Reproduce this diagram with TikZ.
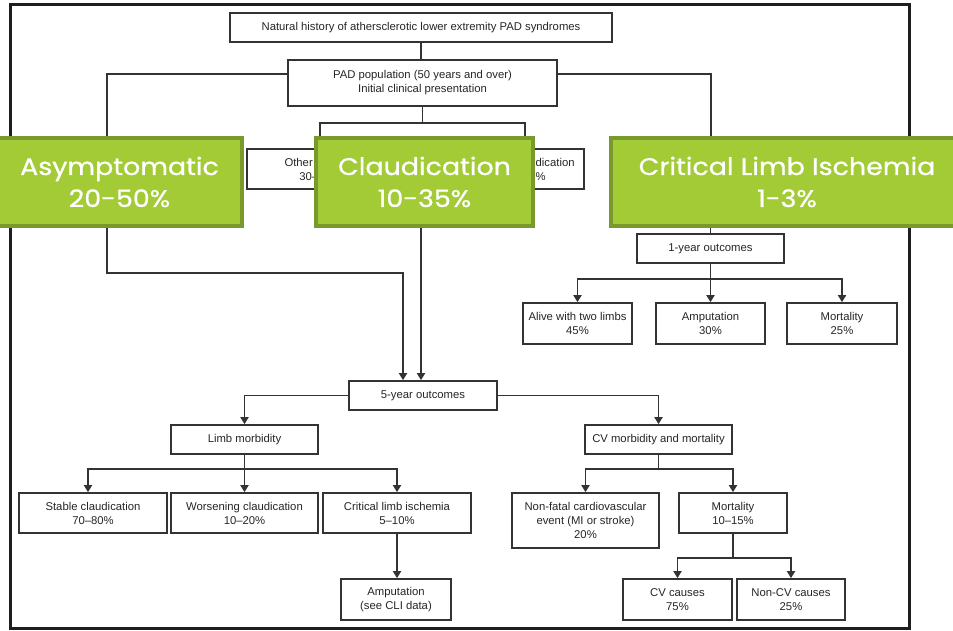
\documentclass[tikz,border=0pt]{standalone}
\usepackage{fontspec}
\setmainfont{Liberation Sans}
\newfontfamily\greenfont{Poppins}[FakeStretch=1.12,FakeBold=0.8]
\usetikzlibrary{arrows.meta}
\definecolor{ink}{HTML}{333333}
\definecolor{frameink}{HTML}{1E1E1E}
\definecolor{leaf}{HTML}{A2CB36}
\definecolor{leafedge}{HTML}{789A2C}
\begin{document}
\begin{tikzpicture}[x=1pt,y=-1pt,
  bx/.style={draw=ink,line width=1.7pt,fill=white,inner sep=0pt,align=center,
    text=black!85,font=\fontsize{11.3}{14}\selectfont},
  sz/.style 2 args={minimum width=#1pt,minimum height=#2pt},
  conn/.style={draw=ink,line width=1.8pt},
  arr/.style={conn,-{Triangle[width=8pt,length=7pt]}},
  tag/.style={draw=leafedge,line width=3.5pt,fill=leaf,text=white,inner sep=0pt,
    align=center,font=\greenfont\fontsize{24}{32}\selectfont}
]
\useasboundingbox (0,0) rectangle (953,630);
\begin{scope}
\clip (0,0) rectangle (953,630);

% outer frame
\draw[frameink,line width=3pt] (10,4) rectangle (909,628);

% header and population
\node[bx,sz={382}{29}] (nat) at (421,27.5) {Natural history of athersclerotic lower extremity PAD syndromes};
\node[bx,sz={269}{46}] (pad) at (422.5,83) {PAD population (50 years and over)\\Initial clinical presentation};

% initial presentation boxes
\node[bx,sz={146}{40}] (oth) at (320,169) {Other leg pain\\30--40\%};
\node[bx,sz={118}{40}] (cla) at (525,169) {Classic claudication\\10--35\%};
\coordinate (tA) at (107,149);
\coordinate (tL) at (711,149);

% 1-year outcomes
\node[bx,sz={147}{29}] (one) at (710.5,248.5) {1-year outcomes};
\node[bx,sz={109}{41}] (alive) at (577.5,323.5) {Alive with two limbs\\45\%};
\node[bx,sz={109}{41}] (amp1) at (710.5,323.5) {Amputation\\30\%};
\node[bx,sz={110}{41}] (mort1) at (842,323.5) {Mortality\\25\%};

% 5-year outcomes
\node[bx,sz={148}{29}] (five) at (423,395.5) {5-year outcomes};
\node[bx,sz={147}{29}] (limb) at (244.5,439.5) {Limb morbidity};
\node[bx,sz={147}{29}] (cv) at (658.5,439.5) {CV morbidity and mortality};
\node[bx,sz={148}{40}] (stab) at (93,513) {Stable claudication\\70--80\%};
\node[bx,sz={147}{40}] (wors) at (244.5,513) {Worsening claudication\\10--20\%};
\node[bx,sz={148}{40}] (cli) at (397,513) {Critical limb ischemia\\5--10\%};
\node[bx,sz={110}{41}] (amp5) at (396,599.5) {Amputation\\(see CLI data)};
\node[bx,sz={147}{55}] (nonf) at (585.5,520.5) {Non-fatal cardiovascular\\event (MI or stroke)\\20\%};
\node[bx,sz={108}{40}] (mort5) at (733,513) {Mortality\\10--15\%};
\node[bx,sz={109}{41}] (cvc) at (677.5,599.5) {CV causes\\75\%};
\node[bx,sz={108}{41}] (ncv) at (791,599.5) {Non-CV causes\\25\%};

% connectors at the top
\draw[conn] (nat.south) -- (nat.south |- pad.north);
\draw[arr] ([yshift=9pt]pad.west) -| (tA);
\draw[arr] ([yshift=9pt]pad.east) -| (tL);
\draw[arr] (pad.south) -- ++(0,16) -| (oth.north);
\draw[arr] (pad.south) -- ++(0,16) -| (cla.north);

% presentation categories
\node[tag,sz={245}{88}] (gA) at (119.5,182) {Asymptomatic\\20-50\%};
\node[tag,sz={217}{88}] (gC) at (424.5,182) {Claudication\\10-35\%};
\node[tag,sz={352}{88}] (gL) at (787,182) {Critical Limb Ischemia\\1-3\%};

% into the outcome trees
\draw[arr] ([xshift=-12.5pt]gA.south) -- ++(0,45) -| ([xshift=-20pt]five.north);
\draw[arr] ([xshift=-3.5pt]gC.south) -- ([xshift=-2pt]five.north);
\draw[conn] (one.north |- gL.south) -- (one.north);

\draw[arr] (one.south) -- ++(0,15) -| (alive.north);
\draw[arr] (one.south) -- (amp1.north);
\draw[arr] (one.south) -- ++(0,15) -| (mort1.north);

\draw[arr] (five.west) -| (limb.north);
\draw[arr] (five.east) -| (cv.north);

\draw[arr] (limb.south) -- ++(0,14) -| ([xshift=-5pt]stab.north);
\draw[arr] (limb.south) -- (wors.north);
\draw[arr] (limb.south) -- ++(0,14) -| (cli.north);
\draw[arr] (cli.south) -- (cli.south |- amp5.north);

\draw[arr] (cv.south) -- ++(0,14) -| (nonf.north);
\draw[arr] (cv.south) -- ++(0,14) -| (mort5.north);
\draw[arr] (mort5.south) -- ++(0,24) -| (cvc.north);
\draw[arr] (mort5.south) -- ++(0,24) -| (ncv.north);
\end{scope}
\end{tikzpicture}
\end{document}
